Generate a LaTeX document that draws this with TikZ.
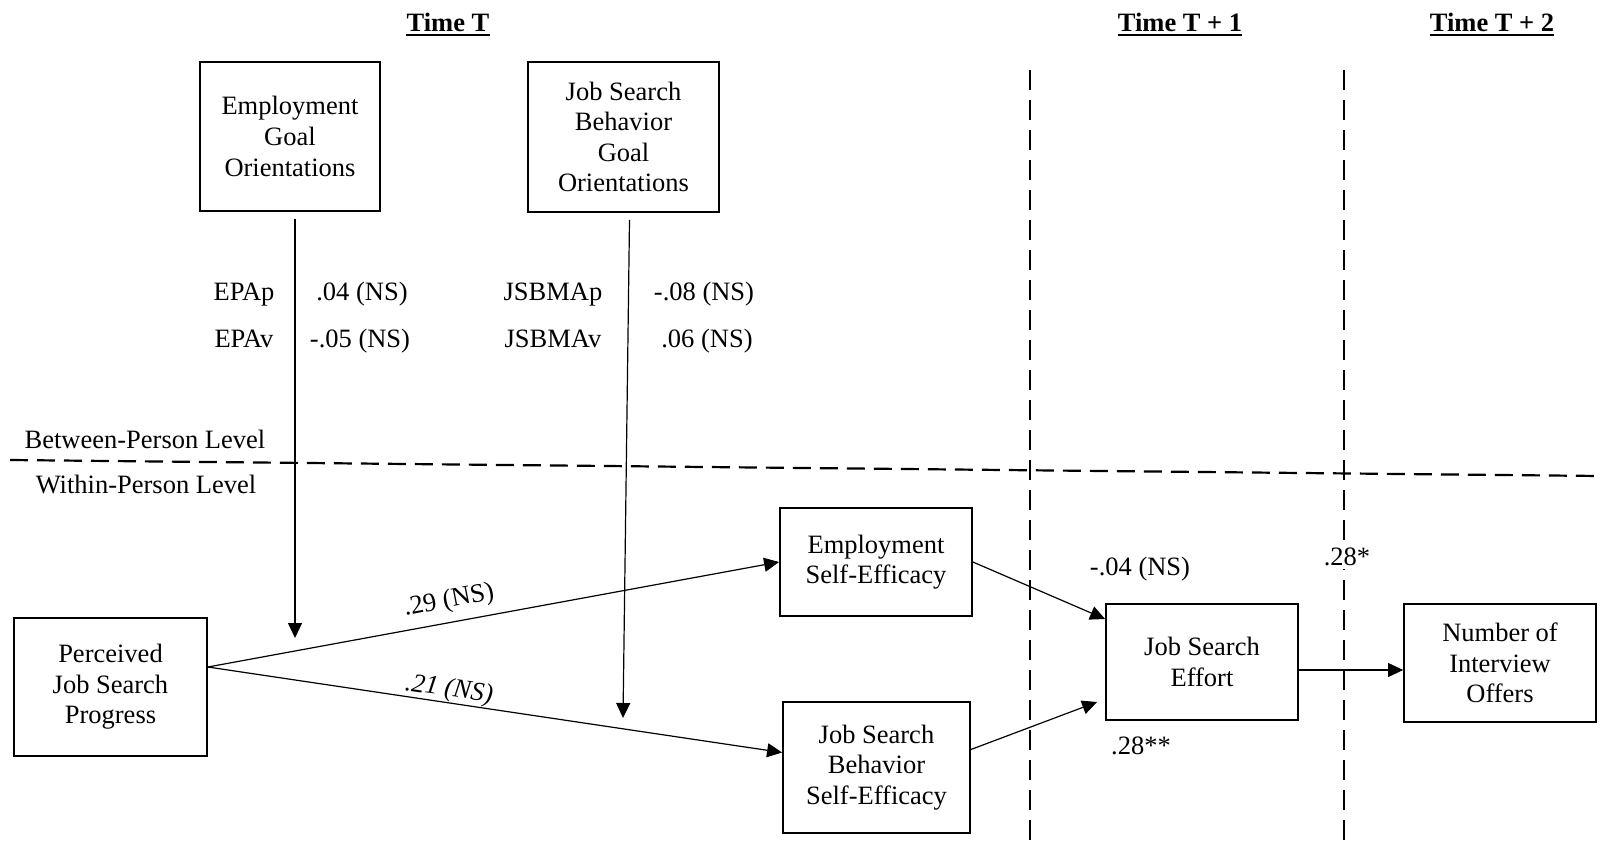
\documentclass[tikz,border=0pt]{standalone}
\usepackage{fontspec}
\setmainfont{Liberation Serif}
\usetikzlibrary{arrows.meta}
\begin{document}
\begin{tikzpicture}[x=1pt,y=-1pt,
  every node/.style={font=\fontsize{26.5}{30.6}\selectfont, inner sep=0pt},
  box/.style={draw, line width=1.8pt, align=center},
  arr/.style={line width=1.2pt, -{Triangle[length=15pt,width=14pt]}},
  lbl/.style={anchor=base},
  hdr/.style={anchor=base, font=\fontsize{26.5}{30.6}\selectfont\bfseries},
  vsep/.style={line width=2pt, dash pattern=on 20pt off 10pt},
  hsep/.style={line width=2.2pt, dash pattern=on 18pt off 9pt}
]
\useasboundingbox[fill=white] (0,0) rectangle (1600,843);

% period headings
\node[hdr] (t0) at (448,32) {Time T};
\node[hdr] (t1) at (1180,32) {Time T + 1};
\node[hdr] (t2) at (1492,32) {Time T + 2};
\foreach \h in {t0,t1,t2}
  \draw[line width=2pt] ([yshift=-3.5pt]\h.base west) -- ([yshift=-3.5pt]\h.base east);

% time separators and level separator
\coordinate (v1top) at (1030,70);  \coordinate (v1bot) at (1030,843);
\coordinate (v2top) at (1344,70);  \coordinate (v2bot) at (1344,843);
\draw[vsep] (v1top) -- (v1bot);
\draw[vsep] (v2top) -- (v2bot);
\coordinate (hl) at (10,460); \coordinate (hr) at (1600,476);
\draw[hsep] (hl) -- (hr);
\node[lbl] (bpl) at (145,448) {Between-Person Level};
\node[lbl] (wpl) at (146,493) {Within-Person Level};

% between-person moderators
\node[box, minimum width=180pt, minimum height=149pt] (ego) at (290,136.5)
  {Employment\\Goal\\Orientations};
\node[box, minimum width=191pt, minimum height=150pt] (jsbgo) at (623.5,137)
  {Job Search\\Behavior\\Goal\\Orientations};

% within-person constructs
\node[box, minimum width=193pt, minimum height=138pt] (pjsp) at (110.5,687)
  {Perceived\\Job Search\\Progress};
\node[box, minimum width=192pt, minimum height=108pt] (ese) at (876,562)
  {Employment\\Self-Efficacy};
\node[box, minimum width=187pt, minimum height=131pt] (jsbse) at (876.5,767.5)
  {Job Search\\Behavior\\Self-Efficacy};
\node[box, minimum width=192pt, minimum height=116pt] (jse) at (1202,662)
  {Job Search\\Effort};
\node[box, minimum width=192pt, minimum height=118pt] (nio) at (1500,663)
  {Number of\\Interview\\Offers};

% cross-level moderation arrows
\coordinate (m1) at (295,638);
\coordinate (m2) at (623,718);
\draw[arr] ([xshift=5pt,yshift=-7pt]ego.south) -- (m1);
\draw[arr] ([xshift=6pt,yshift=-7pt]jsbgo.south) -- (m2);

\node[lbl] (epap) at (244,300) {EPAp};
\node[lbl] (epapv) at (362,300) {.04 (NS)};
\node[lbl] (epav) at (244,347) {EPAv};
\node[lbl] (epavv) at (360,347) {-.05 (NS)};
\node[lbl] (jsbp) at (553,300) {JSBMAp};
\node[lbl] (jsbpv) at (704,300) {-.08 (NS)};
\node[lbl] (jsbv) at (553,347) {JSBMAv};
\node[lbl] (jsbvv) at (707,347) {.06 (NS)};

% within-person paths
\draw[arr] ([yshift=20pt]pjsp.east) -- (ese.west);
\draw[arr] ([yshift=20pt]pjsp.east) -- ([yshift=15pt]jsbse.west);
\draw[arr] (ese.east) -- ([yshift=43pt]jse.west);
\draw[arr] ([yshift=18pt]jsbse.east) -- ([xshift=-8pt,yshift=-40pt]jse.west);
\draw[arr] ([yshift=-8pt]jse.east) -- ([yshift=-7pt]nio.west);

\node[rotate=11] (c1) at (449,601) {.29 (NS)};
\node[rotate=-8] (c2) at (449,690) {\itshape .21 (NS)};
\node[lbl] (c3) at (1140,575) {-.04 (NS)};
\node[lbl] (c4) at (1141,754) {.28**};
\node[lbl, fill=white, inner ysep=4pt, inner xsep=2pt] (c5) at (1347,565) {.28*};
\end{tikzpicture}
\end{document}
